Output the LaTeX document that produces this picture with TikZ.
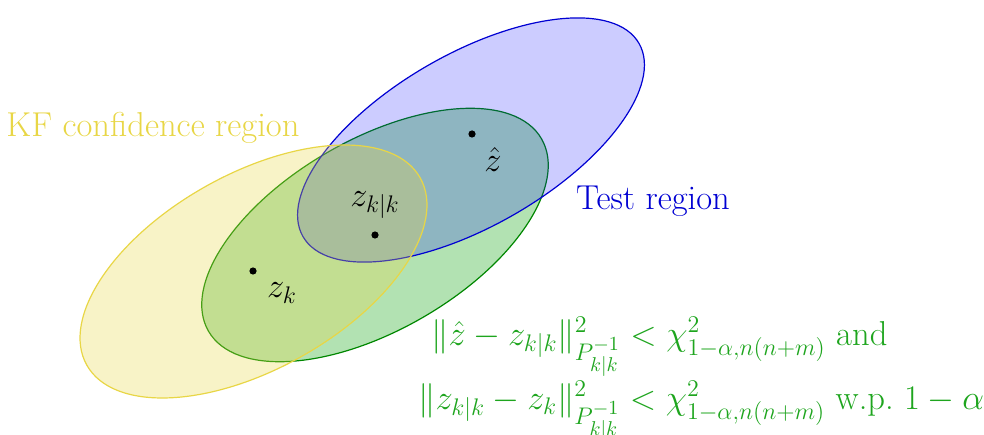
\documentclass[tikz,border=0pt]{standalone}
\usepackage{amsmath}
\definecolor{kfy}{RGB}{232,214,70}
\definecolor{tgreen}{RGB}{0,160,0}
\definecolor{tgreendark}{RGB}{0,135,0}
\definecolor{tblue}{RGB}{0,0,210}
\definecolor{txtgreen}{RGB}{30,165,30}
\begin{document}
\begin{tikzpicture}[x=0.5pt,y=0.5pt,
  region/.style={line width=0.6pt},
  dot/.style={circle,fill=black,inner sep=0pt,minimum size=3.6pt},
  lbl/.style={font=\fontsize{17.28}{21}\selectfont},
  fml/.style={font=\fontsize{17.28}{21}\selectfont, text=txtgreen, inner sep=0pt, anchor=base west}]
\useasboundingbox (0,0) rectangle (984,434);
% regions
\draw[region, draw=tgreendark, fill=tgreen, fill opacity=0.3] (375,199) ellipse [x radius=96.15pt, y radius=47.65pt, rotate=30];
\draw[region, draw=tblue, fill=blue, fill opacity=0.2] (471,294) ellipse [x radius=96.9pt, y radius=43.05pt, rotate=29.9];
\draw[region, draw=kfy, fill=kfy, fill opacity=0.3] (253.5,162.5) ellipse [x radius=95.6pt, y radius=48.8pt, rotate=29.3];
% points
\node[dot] (zhat) at (472,300) {};
\node[dot] (zkk) at (375,199) {};
\node[dot] (zk) at (253,163) {};
\node[lbl] (lzhat) at (493,274) {$\hat{z}$};
\node[lbl] (lzkk) at (375,229) {$z_{k|k}$};
\node[lbl] (lzk) at (282,141) {$z_k$};
% region labels
\node[lbl, text=tblue] (ltest) at (653,233) {Test region};
\node[lbl, text=kfy] (lkf) at (153,306) {KF confidence region};
% formulas
\node[fml] (f1) at (431,89) {$\|\hat{z}-z_{k|k}\|^2_{P^{-1}_{k|k}} < \chi^2_{1-\alpha,n(n+m)}$ and};
\node[fml] (f2) at (418,25) {$\|z_{k|k}-z_k\|^2_{P^{-1}_{k|k}} < \chi^2_{1-\alpha,n(n+m)}$ w.p.\ $1-\alpha$};
\end{tikzpicture}
\end{document}
